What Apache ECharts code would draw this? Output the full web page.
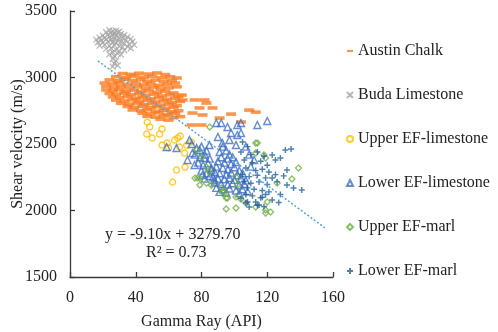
<!DOCTYPE html>
<html>
<head>
<meta charset="utf-8">
<script src="https://cdn.jsdelivr.net/npm/echarts@6/dist/echarts.min.js"></script>
<style>
  html, body { margin: 0; padding: 0; background: #fff; }
  #graph { width: 498px; height: 332px; }
</style>
</head>
<body>
<div id="graph"></div>
<script>
"use strict"

// values: [Gamma Ray (API), Shear velocity (m/s)]
const austinChalk = [
    [32, 3030], [37, 3024], [42, 3032], [48, 3026], [53, 3034], [58, 3022],
    [28, 3006], [34, 3000], [39, 3010], [45, 3002], [50, 3008], [56, 2998], [61, 3005], [65, 2996],
    [24, 2982], [29, 2976], [33, 2986], [38, 2978], [43, 2984], [47, 2972], [52, 2980], [57, 2970], [62, 2978],
    [21, 2958], [26, 2952], [30, 2960], [35, 2948], [40, 2956], [45, 2944], [49, 2954], [54, 2942], [59, 2950], [64, 2958],
    [22, 2932], [27, 2926], [31, 2934], [36, 2922], [41, 2930], [46, 2918], [51, 2928], [55, 2914], [60, 2922], [65, 2930],
    [22, 2906], [26, 2900], [30, 2908], [34, 2896], [39, 2904], [43, 2892], [48, 2900], [53, 2888], [58, 2896], [63, 2884],
    [24, 2880], [28, 2874], [33, 2882], [37, 2870], [42, 2878], [46, 2866], [51, 2874], [56, 2862], [61, 2870], [66, 2858],
    [26, 2854], [30, 2848], [35, 2856], [40, 2844], [44, 2852], [49, 2840], [54, 2848], [59, 2836], [64, 2844],
    [28, 2830], [33, 2824], [38, 2832], [42, 2820], [47, 2828], [52, 2816], [57, 2824], [62, 2812], [67, 2820],
    [31, 2806], [36, 2800], [41, 2808], [45, 2796], [50, 2804], [55, 2792], [60, 2800], [65, 2788],
    [35, 2782], [39, 2776], [44, 2784], [49, 2772], [53, 2780], [58, 2768], [63, 2776],
    [38, 2756], [43, 2750], [47, 2758], [52, 2746], [57, 2754], [62, 2742], [66, 2750],
    [44, 2732], [49, 2726], [54, 2734], [59, 2722], [64, 2730],
    [47, 2708], [52, 2702], [57, 2710], [63, 2698], [67, 2706], [55, 2686], [60, 2680],
    [68, 2868], [68.5, 2831], [75.8, 2831], [81.8, 2831], [83, 2808], [78.8, 2771], [86.7, 2771],
    [74.5, 2733], [80.6, 2718], [91, 2695], [98, 2725], [109, 2755], [113, 2740], [104, 2665],
    [74, 2643], [80, 2643]
];
const budaLimestone = [
    [24, 3355], [26, 3350], [28, 3352], [30, 3345], [22, 3340], [25, 3335], [27, 3330], [29, 3338], [31, 3328], [23, 3322],
    [20, 3315], [26, 3318], [28, 3312], [33, 3318], [35, 3305], [18, 3300], [21, 3298], [24, 3305], [30, 3300], [32, 3295],
    [37, 3290], [16, 3285], [19, 3280], [22, 3288], [25, 3282], [27, 3290], [29, 3278], [34, 3282], [38, 3270], [17, 3265],
    [20, 3262], [23, 3270], [26, 3265], [28, 3258], [31, 3268], [33, 3255], [36, 3250], [39, 3245], [18, 3240], [21, 3245],
    [24, 3238], [27, 3242], [30, 3235], [32, 3228], [35, 3232], [37, 3220], [22, 3215], [25, 3220], [28, 3210], [30, 3198],
    [33, 3205], [26, 3190], [29, 3180], [24, 3175], [31, 3172], [27, 3160], [26, 3140], [28, 3125], [27, 3105], [29, 3090], [26, 3082]
];
const upperEFLimestone = [
    [47, 2665], [48.5, 2628], [46.7, 2575], [50, 2545], [54.5, 2575], [56, 2613], [59, 2507], [63.6, 2530],
    [65.5, 2545], [66.7, 2477], [73.9, 2515], [69.7, 2432], [70, 2327], [64.8, 2304], [62.4, 2214],
    [56, 2492], [71, 2490], [60, 2470], [67, 2560]
];
const lowerEFLimestone = [
    [58.8, 2477], [64.8, 2470], [71.5, 2380], [74.5, 2432], [75.8, 2342], [72.7, 2530], [78.8, 2455], [81.8, 2395],
    [84.8, 2492], [86, 2304], [80.6, 2267], [87.9, 2229],
    [89, 2658], [92, 2658], [95.8, 2628], [101.8, 2643], [104, 2658], [98, 2583], [101.8, 2568], [104, 2583],
    [97, 2530], [92.7, 2507], [101, 2492], [90, 2553], [114, 2643], [120, 2673],
    [93, 2480], [95, 2450], [91, 2440], [97, 2420], [92, 2400], [96, 2390], [99, 2400], [90, 2370], [94, 2360], [98, 2350],
    [101, 2365], [89, 2330], [93, 2320], [96, 2310], [100, 2325], [103, 2300], [88, 2290], [91, 2280], [95, 2270], [98, 2285],
    [102, 2265], [105, 2280], [87, 2250], [90, 2240], [94, 2235], [97, 2245], [100, 2230], [104, 2240], [107, 2225], [88, 2210],
    [92, 2200], [96, 2195], [99, 2205], [103, 2190], [106, 2200], [89, 2170], [93, 2160], [97, 2165], [101, 2150], [105, 2160],
    [108, 2145], [95, 2135], [91, 2140], [103, 2130],
    [74, 2500], [77, 2470], [80, 2480], [83, 2450], [76, 2420], [79, 2400], [82, 2420], [85, 2390], [78, 2360], [81, 2340],
    [84, 2355], [86, 2320], [80, 2300], [83, 2280], [85, 2260], [82, 2240],
    [107, 2480], [109, 2420], [112, 2380], [110, 2330]
];
const upperEFMarl = [
    [77, 2455], [80, 2400], [83, 2327], [79, 2244], [83, 2206], [86, 2190], [92.7, 2140], [95.8, 2094], [85, 2628],
    [113, 2507], [118, 2417], [126, 2206], [135, 2237], [139, 2319], [120, 2064], [119, 2004], [113, 2026], [107, 2056],
    [101, 2101], [95, 2094], [92, 2169], [85, 2289], [77.6, 2244], [95, 2011], [101, 2019], [119, 1981], [122, 1989],
    [114, 2507], [113, 2432], [119, 2395], [101, 2252], [102, 2192], [76, 2244], [79, 2192], [94, 2140], [104, 2085]
];
const lowerEFMarl = [
    [105, 2515], [108, 2480], [131, 2455], [134.5, 2462], [123, 2417], [125, 2380], [128, 2395], [132, 2304], [123, 2244],
    [126, 2215], [132, 2192], [136, 2169], [141, 2154], [123, 2079], [117, 2100], [113, 2064], [108, 2064], [109, 2026],
    [104, 2440], [110, 2420], [114, 2440], [118, 2410], [106, 2380], [111, 2360], [116, 2370], [120, 2340], [107, 2320],
    [113, 2300], [117, 2310], [121, 2290], [105, 2270], [109, 2255], [114, 2265], [119, 2245], [106, 2220], [110, 2205],
    [115, 2215], [120, 2195], [108, 2170], [112, 2160], [117, 2150], [121, 2140], [107, 2120], [111, 2110], [116, 2095],
    [119, 2120], [104, 2090], [114, 2040], [118, 2030], [127, 2060], [128, 2120], [125, 2270], [130, 2260], [107, 2056], [115, 2041]
];
// dotted trendline end points
const trendLine = [[17, 3125], [155, 1870]];

const xTicks = { min: 0, max: 160, interval: 40 };
const yTicks = { min: 1500, max: 3500, interval: 500 };

const serif = "'Liberation Serif', 'DejaVu Serif', serif";
const hollow = (color, w) => ({ color: "transparent", borderColor: color, borderWidth: w });

const axisCommon = {
    axisLine: { lineStyle: { color: "#3a3a3a", width: 1.3 } },
    axisTick: { inside: true, length: 5, lineStyle: { color: "#3a3a3a", width: 1.3 } },
    splitLine: { show: false },
    axisLabel: { color: "#222", fontFamily: serif, fontSize: 16, margin: 13, formatter: v => String(v) },
    nameTextStyle: { color: "#222", fontFamily: serif, fontSize: 16 },
    nameLocation: "middle",
    nameMoveOverlap: false
};

const series = [
    {
        name: "Austin Chalk", type: "scatter", data: austinChalk,
        symbol: "path://M0,0L10,0L10,3.6L0,3.6Z", symbolKeepAspect: true, symbolSize: 10,
        itemStyle: { color: "#fb7a22" }
    },
    {
        name: "Buda Limestone", type: "scatter", data: budaLimestone,
        symbol: "path://M0,0L10,10M10,0L0,10", symbolSize: 6,
        itemStyle: hollow("#a5a5a5", 1.2)
    },
    {
        name: "Upper EF-limestone", type: "scatter", data: upperEFLimestone,
        symbol: "circle", symbolSize: 6,
        itemStyle: hollow("#ffc000", 1.4)
    },
    {
        name: "Lower EF-limestone", type: "scatter", data: lowerEFLimestone,
        symbol: "triangle", symbolSize: 7,
        itemStyle: hollow("#3f6fc6", 1.4)
    },
    {
        name: "Upper EF-marl", type: "scatter", data: upperEFMarl,
        symbol: "diamond", symbolSize: 6,
        itemStyle: hollow("#70ad47", 1.3)
    },
    {
        name: "Lower EF-marl", type: "scatter", data: lowerEFMarl,
        symbol: "path://M5,0L5,10M0,5L10,5", symbolSize: 6,
        itemStyle: hollow("#22609a", 1.4)
    },
    {
        name: "trend", type: "line", data: trendLine, symbol: "none", silent: true,
        lineStyle: { type: [2, 2], color: "#5ba3cf", width: 1.5 }
    }
];

const myChart = echarts.init(document.getElementById("graph"), null, { renderer: "canvas" });
myChart.setOption({
    animation: false,
    grid: { left: 70, right: 165, top: 11, bottom: 55, containLabel: false, outerBoundsMode: "none" },
    xAxis: Object.assign({}, axisCommon, xTicks, { type: "value", name: "Gamma Ray (API)", nameGap: 37 }),
    yAxis: Object.assign({}, axisCommon, yTicks, { type: "value", name: "Shear velocity (m/s)", nameGap: 44 }),
    legend: {
        orient: "vertical", left: 341, top: 38,
        itemWidth: 6, itemHeight: 6, itemGap: 28,
        textStyle: { color: "#222", fontFamily: serif, fontSize: 16, lineHeight: 16 },
        data: series.slice(0, 6).map(s => s.name)
    },
    graphic: [
        { type: "text", left: 105, top: 227, style: { text: "y = -9.10x + 3279.70", font: "16px " + serif, fill: "#222" } },
        { type: "text", left: 146, top: 245, style: { text: "R² = 0.73", font: "16px " + serif, fill: "#222" } }
    ],
    series: series
});
</script>
</body>
</html>
